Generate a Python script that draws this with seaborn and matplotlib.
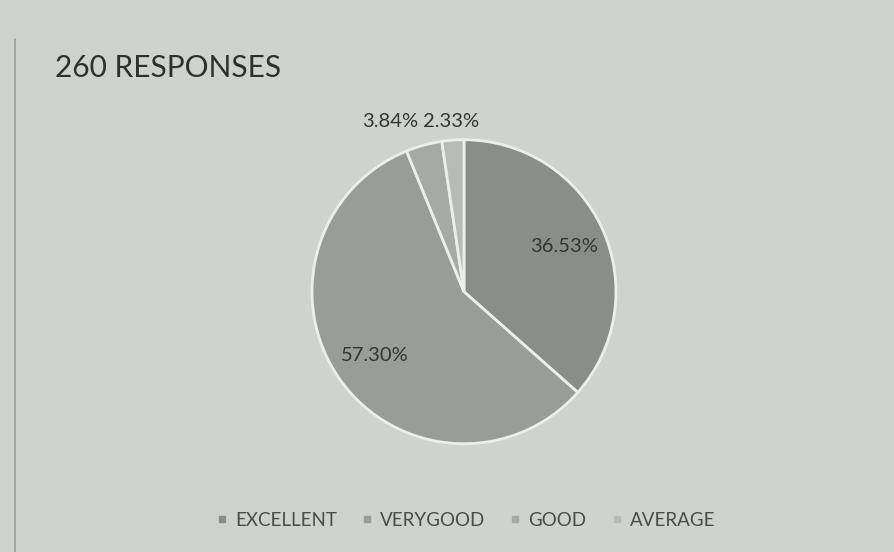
import matplotlib
matplotlib.use("Agg")
import matplotlib.pyplot as plt
from matplotlib.lines import Line2D
import numpy as np
import seaborn as sns

# data
categories = ["EXCELLENT", "VERYGOOD", "GOOD", "AVERAGE"]
shares = [36.53, 57.30, 3.84, 2.33]
title = "260 RESPONSES"

sns.set_theme(style="white")
plt.rcParams["font.family"] = ["Lato", "DejaVu Sans"]

bg = "#cfd3d0"
colors = ["#8a8d8a", "#999c99", "#a6a9a6", "#b7bab7"]

fig = plt.figure(figsize=(8.94, 5.52), dpi=100, facecolor=bg)
ax = fig.add_axes([0.349, 0.196, 0.340, 0.551])
ax.set_facecolor(bg)

wedges, texts, autotexts = ax.pie(
    shares, colors=colors, startangle=90, counterclock=False,
    autopct=lambda p: f"{p:.2f}%", pctdistance=0.72,
    wedgeprops=dict(edgecolor="#eceeec", linewidth=2),
    textprops=dict(fontsize=14.5, color="#333533"),
)
ax.set_xlim(-1, 1)
ax.set_ylim(-1, 1)

# small slices get their labels outside, on one line above the pie
for w, t in zip(wedges, autotexts):
    if w.theta2 - w.theta1 < 20:
        ang = np.deg2rad((w.theta1 + w.theta2) / 2)
        x = 1.14 * np.cos(ang)
        t.set_position((x, 1.12))
        t.set_ha("right" if x < -0.2 else "center")
        t.set_va("center")

fig.text(0.062, 0.877, title, fontsize=21.5, color="#2e302e", va="center")

handles = [Line2D([], [], marker="s", linestyle="", markersize=4.5,
                  markerfacecolor=c, markeredgecolor=c) for c in colors]
fig.legend(handles, categories, loc="center", bbox_to_anchor=(0.52, 0.057),
           ncol=4, frameon=False, fontsize=13.5, handletextpad=0.3,
           handlelength=0.8, columnspacing=1.2, labelcolor="#4a4c4a")

fig.add_artist(Line2D([0.017, 0.017], [0.0, 0.93], color="#9a9e9b", linewidth=1.2))

fig.savefig("out.png", dpi=100, facecolor=bg)
